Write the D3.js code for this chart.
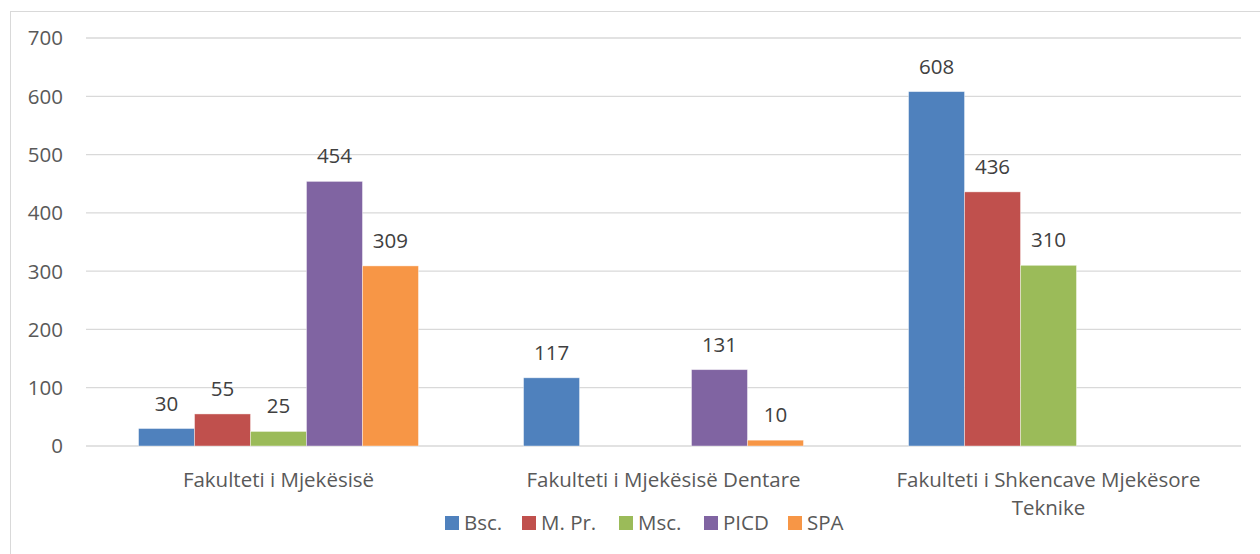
<!DOCTYPE html>
<html>
<head>
<meta charset="utf-8">
<script src="https://cdn.jsdelivr.net/npm/d3@7"></script>
<style>
  body { margin: 0; background: #fff; }
  svg { display: block; font-family: "Open Sans", sans-serif; }
</style>
</head>
<body>
<svg id="chart"></svg>
<script>
// Chart data
const categories = ["Fakulteti i Mjekësisë", "Fakulteti i Mjekësisë Dentare", "Fakulteti i Shkencave Mjekësore Teknike"];
const seriesNames = ["Bsc.", "M. Pr.", "Msc.", "PICD", "SPA"];
const seriesColors = ["#4F81BD", "#C0504D", "#9BBB59", "#8064A2", "#F79646"];
// one array per series, in category order (null = no bar)
const bsc  = [30, 117, 608];
const mpr  = [55, null, 436];
const msc  = [25, null, 310];
const picd = [454, 131, null];
const spa  = [309, 10, null];
const seriesValues = [bsc, mpr, msc, picd, spa];
const yTicks = [0, 100, 200, 300, 400, 500, 600, 700];

const W = 1260, H = 554;
const margin = { top: 38, right: 19, bottom: 108, left: 86 };
const width = W - margin.left - margin.right,
      height = H - margin.top - margin.bottom;
const fontSize = "20.5px";

const svg = d3.select("#chart").attr("width", W).attr("height", H);

// outer chart border
svg.append("rect")
  .attr("x", 10.5).attr("y", 11.5)
  .attr("width", W).attr("height", H)
  .attr("fill", "none").attr("stroke", "#d9d9d9");

const g = svg.append("g").attr("transform", `translate(${margin.left},${margin.top})`);

const x0 = d3.scaleBand().domain(categories).range([0, width])
  .paddingInner(0.273).paddingOuter(0.1365);
const x1 = d3.scaleBand().domain(seriesNames).range([0, x0.bandwidth()]);
const y = d3.scaleLinear().domain([0, 700]).range([height, 0]);

// gridlines
g.append("g")
  .selectAll("line")
  .data(yTicks)
  .enter().append("line")
  .attr("x1", 0).attr("x2", width)
  .attr("y1", d => y(d)).attr("y2", d => y(d))
  .attr("stroke", "#d9d9d9").attr("stroke-width", 1.3);

// y tick labels
g.append("g")
  .selectAll("text")
  .data(yTicks)
  .enter().append("text")
  .attr("x", -23)
  .attr("y", d => y(d))
  .attr("dy", "0.36em")
  .attr("text-anchor", "end")
  .attr("fill", "#595959")
  .style("font-size", fontSize)
  .text(d => d);

// build flat bar list
const bars = [];
categories.forEach((c, ci) => {
  seriesNames.forEach((s, si) => {
    const v = seriesValues[si][ci];
    if (v != null) bars.push({ cat: c, series: s, color: seriesColors[si], value: v });
  });
});

g.append("g")
  .selectAll("rect")
  .data(bars)
  .enter().append("rect")
  .attr("x", d => x0(d.cat) + x1(d.series))
  .attr("y", d => y(d.value))
  .attr("width", x1.bandwidth())
  .attr("height", d => height - y(d.value))
  .attr("fill", d => d.color)
  .attr("stroke", "#ffffff").attr("stroke-opacity", 0.5).attr("stroke-width", 0.8);

// data labels
g.append("g")
  .selectAll("text")
  .data(bars)
  .enter().append("text")
  .attr("x", d => x0(d.cat) + x1(d.series) + x1.bandwidth() / 2)
  .attr("y", d => y(d.value) - 18)
  .attr("text-anchor", "middle")
  .attr("fill", "#404040")
  .style("font-size", fontSize)
  .text(d => d.value);

// category labels (wrapped)
const catText = g.append("g")
  .selectAll("text")
  .data(categories)
  .enter().append("text")
  .attr("x", d => x0(d) + x0.bandwidth() / 2)
  .attr("y", height + 41)
  .attr("text-anchor", "middle")
  .attr("fill", "#595959")
  .style("font-size", fontSize);

catText.each(function(d) {
  const el = d3.select(this);
  const words = d.split(" ");
  const maxW = 340;
  let line = [];
  let tspan = el.append("tspan").attr("x", el.attr("x")).attr("dy", 0);
  words.forEach(w => {
    line.push(w);
    tspan.text(line.join(" "));
    if (tspan.node().getComputedTextLength() > maxW && line.length > 1) {
      line.pop();
      tspan.text(line.join(" "));
      line = [w];
      tspan = el.append("tspan").attr("x", el.attr("x")).attr("dy", 28).text(w);
    }
  });
});

// legend
const legend = svg.append("g").attr("transform", "translate(0,523)");
const legendX = [445, 522, 619, 704, 788];
seriesNames.forEach((s, i) => {
  const item = legend.append("g").attr("transform", `translate(${legendX[i]},0)`);
  item.append("rect")
    .attr("x", 0).attr("y", -7)
    .attr("width", 14).attr("height", 14)
    .attr("fill", seriesColors[i]);
  item.append("text")
    .attr("x", 19).attr("y", 0)
    .attr("dy", "0.36em")
    .attr("fill", "#595959")
    .style("font-size", fontSize)
    .text(s);
});
</script>
</body>
</html>
